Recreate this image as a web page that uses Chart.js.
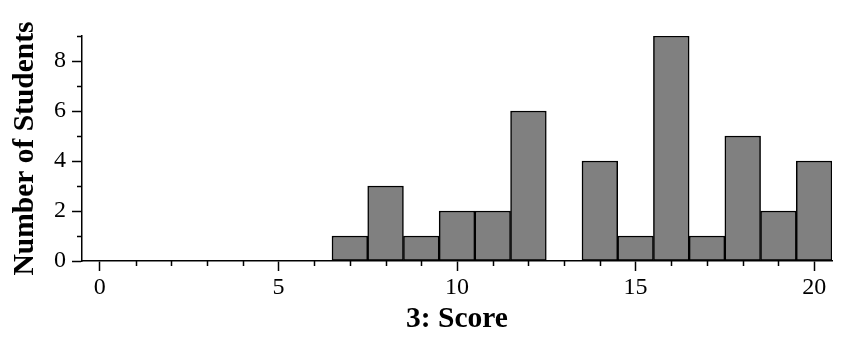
<!DOCTYPE html>
<html>
<head>
<meta charset="utf-8">
<script src="https://cdn.jsdelivr.net/npm/chart.js@4/dist/chart.umd.min.js"></script>
<style>
  html, body { margin: 0; padding: 0; background: #fff; }
  #wrap { width: 850px; height: 342px; }
</style>
</head>
<body>
<div id="wrap"><canvas id="hist"></canvas></div>
<script>
/* === DATA === */
const scores = [7, 8, 9, 10, 11, 12, 13, 14, 15, 16, 17, 18, 19, 20];
const counts = [1, 3, 1, 2, 2, 6, 0, 4, 1, 9, 1, 5, 2, 4];

const xTicks = [0, 1, 2, 3, 4, 5, 6, 7, 8, 9, 10, 11, 12, 13, 14, 15, 16, 17, 18, 19, 20];
const xMajor = [0, 5, 10, 15, 20];
const yTicks = [0, 1, 2, 3, 4, 5, 6, 7, 8, 9];
const yMajor = [0, 2, 4, 6, 8];

const FONT = "'Liberation Serif', 'Times New Roman', serif";

/* small ticks for the in-between values */
const minorTicks = {
  id: "minorTicks",
  afterDraw(chart) {
    const { ctx, chartArea } = chart;
    const x = chart.scales.x, y = chart.scales.y;
    ctx.save();
    ctx.strokeStyle = "#000";
    ctx.lineWidth = 1.5;
    ctx.beginPath();
    xTicks.filter(v => !xMajor.includes(v)).forEach(v => {
      const px = Math.round(x.getPixelForValue(v)) + 0.5;
      ctx.moveTo(px, chartArea.bottom);
      ctx.lineTo(px, chartArea.bottom + 5);
    });
    yTicks.filter(v => !yMajor.includes(v)).forEach(v => {
      const py = Math.round(y.getPixelForValue(v)) + 0.5;
      ctx.moveTo(chartArea.left, py);
      ctx.lineTo(chartArea.left - 5, py);
    });
    ctx.stroke();
    ctx.restore();
  }
};

new Chart(document.getElementById("hist"), {
  type: "bar",
  data: {
    datasets: [{
      data: scores.map((s, i) => ({ x: s, y: counts[i] })),
      backgroundColor: "#808080",
      borderColor: "#000",
      borderWidth: 1.5,
      borderSkipped: false,
      barPercentage: 1,
      categoryPercentage: 1
    }]
  },
  options: {
    responsive: true,
    maintainAspectRatio: false,
    animation: false,
    layout: { padding: { top: 36, right: 18, left: 0, bottom: 0 } },
    plugins: { legend: { display: false }, tooltip: { enabled: false } },
    scales: {
      x: {
        type: "linear",
        min: -0.5,
        max: 20.5,
        offset: false,
        afterBuildTicks: s => { s.ticks = xTicks.map(v => ({ value: v })); },
        afterFit: s => { s.height = 81; },
        ticks: {
          autoSkip: false,
          maxRotation: 0,
          padding: 2,
          color: "#000",
          font: { family: FONT, size: 24 },
          callback: v => (xMajor.includes(v) ? String(v) : "")
        },
        grid: {
          drawOnChartArea: false,
          offset: false,
          tickLength: 10,
          tickWidth: 1.5,
          tickColor: c => (c.tick && xMajor.includes(c.tick.value) ? "#000" : "rgba(0,0,0,0)")
        },
        border: { color: "#000", width: 1.5 },
        title: {
          display: true,
          text: "3: Score",
          color: "#000",
          font: { family: FONT, size: 29.5, weight: "bold" },
          padding: { top: 0, bottom: 5 }
        }
      },
      y: {
        min: 0,
        max: 9,
        afterBuildTicks: s => { s.ticks = yTicks.map(v => ({ value: v })); },
        afterFit: s => { s.width = 82; },
        ticks: {
          autoSkip: false,
          padding: 6,
          color: "#000",
          font: { family: FONT, size: 24 },
          callback: v => (yMajor.includes(v) ? String(v) : "")
        },
        grid: {
          drawOnChartArea: false,
          tickLength: 10,
          tickWidth: 1.5,
          tickColor: c => (c.tick && yMajor.includes(c.tick.value) ? "#000" : "rgba(0,0,0,0)")
        },
        border: { color: "#000", width: 1.5 },
        title: {
          display: true,
          text: "Number of Students",
          color: "#000",
          font: { family: FONT, size: 29.5, weight: "bold" },
          padding: { top: 8, bottom: 0 }
        }
      }
    }
  },
  plugins: [minorTicks]
});
</script>
</body>
</html>
